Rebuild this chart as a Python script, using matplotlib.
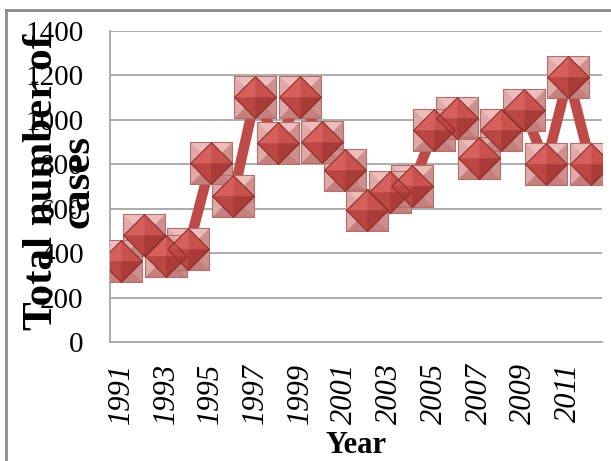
import matplotlib.pyplot as plt
from matplotlib.path import Path
from matplotlib.lines import Line2D

# Data
years = list(range(1991, 2013))
cases = [365, 480, 385, 420, 805, 655, 1105, 895, 1105, 900, 775,
         595, 675, 700, 955, 1010, 830, 955, 1045, 800, 1195, 800]
y_ticks = [0, 200, 400, 600, 800, 1000, 1200, 1400]

plt.rcParams['font.family'] = ['Liberation Serif', 'DejaVu Serif']

fig = plt.figure(figsize=(6.11, 4.61), dpi=100)
ax = fig.add_axes([110 / 611, 119 / 461, 492 / 611, 311 / 461])

x = list(range(len(years)))

# thick connecting line
ax.plot(x, cases, color='#BE4B48', lw=7.5, zorder=2)


def poly(pts):
    codes = [Path.MOVETO] + [Path.LINETO] * (len(pts) - 1) + [Path.CLOSEPOLY]
    return Path(pts + [pts[0]], codes)


# square base of the pyramid marker, four facets
sq_facets = [
    (poly([(0, 0), (-1, 1), (1, 1)]), '#EDBDBB'),
    (poly([(0, 0), (-1, -1), (-1, 1)]), '#E0A9A7'),
    (poly([(0, 0), (1, 1), (1, -1)]), '#CF8F8D'),
    (poly([(0, 0), (1, -1), (-1, -1)]), '#C57F7D'),
]
# diamond on top, four facets
dm_facets = [
    (poly([(0, 0), (-1, 0), (0, 1)]), '#D8605C'),
    (poly([(0, 0), (0, 1), (1, 0)]), '#C9524E'),
    (poly([(0, 0), (0, -1), (-1, 0)]), '#BC4643'),
    (poly([(0, 0), (1, 0), (0, -1)]), '#A93B38'),
]
square = poly([(-1, -1), (-1, 1), (1, 1), (1, -1)])
diamond = poly([(0, 1), (1, 0), (0, -1), (-1, 0)])

ms = 30
for path, col in sq_facets:
    ax.plot(x, cases, ls='none', marker=path, ms=ms, mfc=col,
            mec=col, mew=0.4, zorder=3)
ax.plot(x, cases, ls='none', marker=square, ms=ms, mfc='none',
        mec='#B06E6C', mew=0.8, zorder=3)
for path, col in dm_facets:
    ax.plot(x, cases, ls='none', marker=path, ms=ms, mfc=col,
            mec=col, mew=0.4, zorder=4)
ax.plot(x, cases, ls='none', marker=diamond, ms=ms, mfc='none',
        mec='#8E302D', mew=0.8, zorder=4)

ax.set_xlim(-0.5, len(years) - 0.5)
ax.set_ylim(0, 1400)
ax.set_yticks(y_ticks)
ax.set_yticklabels([str(v) for v in y_ticks], fontsize=21)
ax.set_xticks(x[::2])
ax.set_xticklabels([str(yr) for yr in years[::2]], rotation=90,
                   fontsize=22, style='italic', va='top', ha='center')
ax.tick_params(axis='both', length=0)
ax.tick_params(axis='y', pad=19)
ax.tick_params(axis='x', pad=15)

ax.grid(axis='y', color='#A6A6A6', lw=1.3, zorder=0)
ax.set_axisbelow(True)
for side in ['top', 'right']:
    ax.spines[side].set_visible(False)
for side in ['left', 'bottom']:
    ax.spines[side].set_color('#A6A6A6')
    ax.spines[side].set_linewidth(1.3)

fig.text(60 / 611, (461 - 182) / 461, 'Total number of\ncases', rotation=90,
         ha='center', va='center', multialignment='center', fontsize=31,
         fontweight='bold', linespacing=0.95)
fig.text(356 / 611, (461 - 453) / 461, 'Year', ha='center', va='baseline',
         fontsize=22, fontweight='bold')

# outer chart border (top and left edges visible)
fig.add_artist(Line2D([6 / 611, 1], [1 - 10 / 461, 1 - 10 / 461],
                      color='#8C8C8C', lw=2, transform=fig.transFigure))
fig.add_artist(Line2D([6 / 611, 6 / 611], [0, 1 - 10 / 461],
                      color='#8C8C8C', lw=2, transform=fig.transFigure))

fig.savefig('out.png', dpi=100)
